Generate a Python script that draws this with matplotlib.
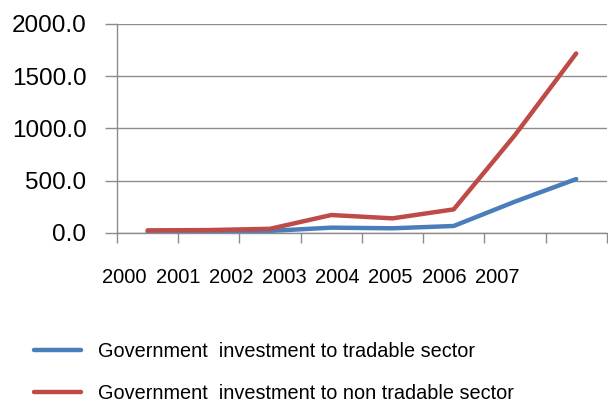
import numpy as np
import matplotlib
matplotlib.use("Agg")
import matplotlib.pyplot as plt

# data
years = ["2000", "2001", "2002", "2003", "2004", "2005", "2006", "2007"]
tradable = [10, 15, 20, 51, 45, 67, 300, 516]
non_tradable = [25, 28, 40, 172, 140, 226, 937, 1718]
series_names = ["Government  investment to tradable sector",
                "Government  investment to non tradable sector"]

plt.rcParams['font.family'] = ['Liberation Sans', 'DejaVu Sans']

fig = plt.figure(figsize=(6.08, 4.04), dpi=100)
ax = fig.add_axes([0.1924, 0.4233, 0.8056, 0.5173])

x = np.arange(len(years))
l1, = ax.plot(x, tradable, color='#4A7EBB', lw=3.2, solid_capstyle='round')
l2, = ax.plot(x, non_tradable, color='#BE4B48', lw=3.2, solid_capstyle='round')

ax.set_xlim(-0.5, len(years) - 0.5)
ax.set_ylim(0, 2000)
ax.set_yticks(np.arange(0, 2001, 500))
ax.set_yticklabels(["%.1f" % v for v in np.arange(0, 2001, 500)], fontsize=17.5)
ax.yaxis.grid(True, color='#8c8c8c', lw=1)
ax.set_axisbelow(True)

# category boundaries get the tick marks, labels sit a bit squeezed like the original
ax.set_xticks(np.arange(len(years) + 1) - 0.5, minor=True)
ax.set_xticks(-0.375 + 0.869 * x)
ax.set_xticklabels(years, fontsize=14.5)
ax.tick_params(axis='x', which='major', length=0, pad=25)
ax.tick_params(axis='x', which='minor', length=7, color='#8c8c8c', width=1)
ax.tick_params(axis='y', length=9, color='#8c8c8c', width=1, pad=13)

for s in ['top', 'right']:
    ax.spines[s].set_visible(False)
for s in ['left', 'bottom']:
    ax.spines[s].set_color('#8c8c8c')
    ax.spines[s].set_linewidth(1)

fig.legend([l1, l2], series_names, loc='upper left',
           bbox_to_anchor=(0.026, 0.197), frameon=False, fontsize=14.3,
           handlelength=2.36, handletextpad=0.9, labelspacing=1.12)

fig.savefig("out.png", dpi=100)
